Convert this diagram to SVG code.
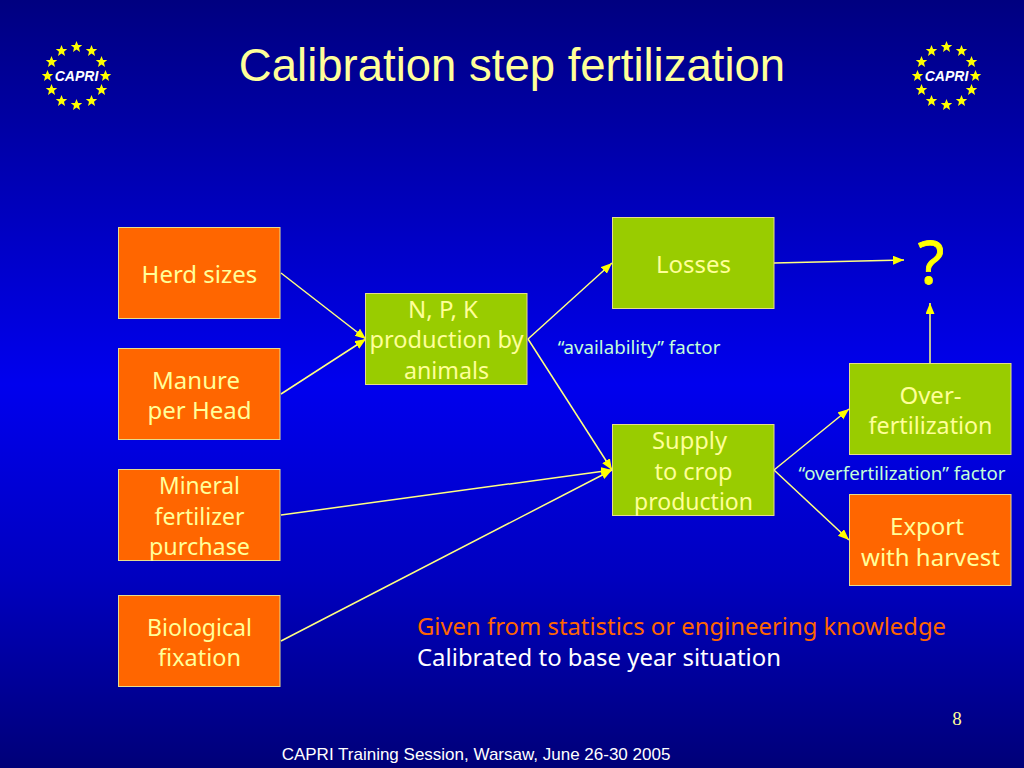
<svg xmlns="http://www.w3.org/2000/svg" width="1024" height="768" viewBox="0 0 1024 768">
<style>
.box{stroke:#e6dc8c;stroke-width:1}
.o{fill:#ff6600}.g{fill:#99cc00}
.t{font-family:"Noto Sans","DejaVu Sans",sans-serif;font-size:24px;fill:#ffff99;text-anchor:middle}
.f{font-family:"Noto Sans","DejaVu Sans",sans-serif;font-size:18.7px;fill:#c4ffd8;text-anchor:middle}
.n{font-family:"Noto Sans","DejaVu Sans",sans-serif;font-size:24px}
.a{font-family:"Liberation Sans",Arial,sans-serif}
.c line{stroke:#ffff80;stroke-width:1.5;marker-end:url(#ah)}
.logo text{font-family:"Liberation Sans",Arial,sans-serif;font-size:14px;font-weight:bold;font-style:italic;fill:#fff;text-anchor:middle}
.logo use{fill:#ffff00}
</style>
<defs>
<linearGradient id="bg" x1="0" y1="0" x2="0" y2="1">
<stop offset="0" stop-color="#000080"/>
<stop offset="0.25" stop-color="#0000b8"/>
<stop offset="0.5" stop-color="#0000ee"/>
<stop offset="0.75" stop-color="#0000c0"/>
<stop offset="1" stop-color="#000078"/>
</linearGradient>
<marker id="ah" markerUnits="userSpaceOnUse" markerWidth="12" markerHeight="10" refX="11" refY="4.5" orient="auto">
<path d="M0 0L11 4.5L0 9Z" fill="#ffff00"/>
</marker>
<polygon id="s" points="0,-6 1.6,-2 5.7,-1.9 2.5,0.8 3.5,4.9 0,2.6 -3.5,4.9 -2.5,0.8 -5.7,-1.9 -1.6,-2"/>
<g id="capri" class="logo">
<use href="#s" x="0" y="-29"/>
<use href="#s" x="15" y="-25"/>
<use href="#s" x="25" y="-14"/>
<use href="#s" x="29" y="0"/>
<use href="#s" x="25" y="14"/>
<use href="#s" x="15" y="25"/>
<use href="#s" x="0" y="29"/>
<use href="#s" x="-15" y="25"/>
<use href="#s" x="-25" y="14"/>
<use href="#s" x="-29" y="0"/>
<use href="#s" x="-25" y="-14"/>
<use href="#s" x="-15" y="-25"/>
<text x="0" y="5">CAPRI</text>
</g>
</defs>
<rect width="1024" height="768" fill="url(#bg)"/>
<use id="logo-left" href="#capri" x="76.500" y="76"/>
<use id="logo-right" href="#capri" x="946.500" y="76"/>
<text id="title" class="a" x="512" y="81" font-size="45.500" fill="#ffff99" text-anchor="middle">Calibration step fertilization</text>

<g id="connectors" class="c">
<line x1="281" y1="273" x2="366" y2="339"/>
<line x1="281" y1="394" x2="366" y2="339"/>
<line x1="281" y1="515" x2="612" y2="470"/>
<line x1="281" y1="641" x2="612" y2="470"/>
<line x1="528" y1="339" x2="612" y2="263"/>
<line x1="528" y1="339" x2="612" y2="470"/>
<line x1="774" y1="263" x2="904" y2="260"/>
<line x1="774" y1="470" x2="849" y2="409"/>
<line x1="774" y1="470" x2="849" y2="540"/>
<line x1="930" y1="363" x2="930" y2="303"/>
</g>

<g id="herd"><rect class="box o" x="118.500" y="227.500" width="161.500" height="91"/><text class="t" x="199.500" y="283">Herd sizes</text></g>
<g id="manure"><rect class="box o" x="118.500" y="348.500" width="161.500" height="91"/><text class="t" x="196" y="389">Manure </text><text class="t" x="199.500" y="419">per Head</text></g>
<g id="mineral"><rect class="box o" x="118.500" y="469.500" width="161.500" height="91"/><text class="t" x="199.500" y="494" textLength="81" lengthAdjust="spacingAndGlyphs">Mineral</text><text class="t" x="199.500" y="525" textLength="90" lengthAdjust="spacingAndGlyphs">fertilizer</text><text class="t" x="199.500" y="555" textLength="101" lengthAdjust="spacingAndGlyphs">purchase</text></g>
<g id="bio"><rect class="box o" x="118.500" y="595.500" width="161.500" height="91"/><text class="t" x="199.500" y="636" textLength="105" lengthAdjust="spacingAndGlyphs">Biological</text><text class="t" x="199.500" y="666" textLength="83" lengthAdjust="spacingAndGlyphs">fixation</text></g>
<g id="npk"><rect class="box g" x="365.500" y="293.500" width="161.500" height="91"/><text class="t" x="443" y="318">N, P, K</text><text class="t" x="446.500" y="348" textLength="154" lengthAdjust="spacingAndGlyphs">production by</text><text class="t" x="446.500" y="379" textLength="85" lengthAdjust="spacingAndGlyphs">animals</text></g>
<g id="losses"><rect class="box g" x="612.500" y="217.500" width="161.500" height="91"/><text class="t" x="693.500" y="273">Losses</text></g>
<g id="supply"><rect class="box g" x="612.500" y="424.500" width="161.500" height="91"/><text class="t" x="689.500" y="449" textLength="75" lengthAdjust="spacingAndGlyphs">Supply</text><text class="t" x="693.500" y="480" textLength="78" lengthAdjust="spacingAndGlyphs">to crop</text><text class="t" x="693.500" y="510" textLength="119" lengthAdjust="spacingAndGlyphs">production</text></g>
<g id="over"><rect class="box g" x="849.500" y="363.500" width="161.500" height="91"/><text class="t" x="930.500" y="404">Over-</text><text class="t" x="930.500" y="434" textLength="124" lengthAdjust="spacingAndGlyphs">fertilization</text></g>
<g id="export"><rect class="box o" x="849.500" y="494.500" width="161.500" height="91"/><text class="t" x="927" y="535">Export</text><text class="t" x="930.500" y="566">with harvest</text></g>

<text class="f" x="639" y="354">“availability” factor</text>
<text class="f" x="902" y="480">“overfertilization” factor</text>
<text id="question" x="931" y="284" font-family="Noto Sans,DejaVu Sans,sans-serif" font-size="61" fill="#ffff00" stroke="#ffff00" stroke-width="0.8" text-anchor="middle">?</text>
<text class="n" x="417" y="635" fill="#ff6600" textLength="529" lengthAdjust="spacingAndGlyphs">Given from statistics or engineering knowledge</text>
<text class="n" x="417" y="666" fill="#ffffff" textLength="364" lengthAdjust="spacingAndGlyphs">Calibrated to base year situation</text>
<text x="957" y="725" font-family="Liberation Serif,serif" font-size="19" fill="#ffff99" text-anchor="middle">8</text>
<text class="a" x="476" y="760" font-size="17" fill="#ffffff" text-anchor="middle">CAPRI Training Session, Warsaw, June 26-30 2005</text>
</svg>
